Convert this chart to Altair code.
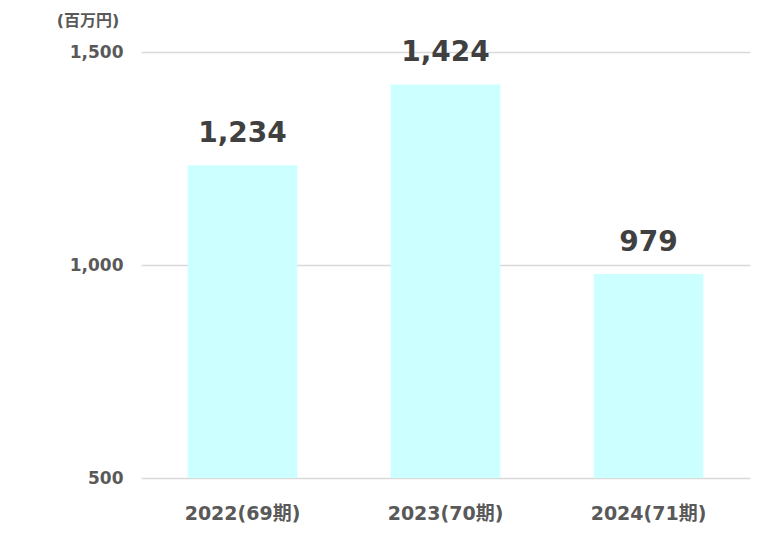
import altair as alt
import pandas as pd

# values (百万円)
periods = ["2022(69期)", "2023(70期)", "2024(71期)"]
amounts = [1234, 1424, 979]
labels = ["1,234", "1,424", "979"]

df = pd.DataFrame({"period": periods, "amount": amounts, "label": labels})

FONT = "DejaVu Sans, Noto Sans CJK JP"

base = alt.Chart(df).encode(
    x=alt.X("period:N", sort=periods, title=None,
            scale=alt.Scale(paddingInner=0.46, paddingOuter=0.23),
            axis=alt.Axis(labelAngle=0, labelFontSize=19, labelFontWeight="bold",
                          labelColor="#595959", labelFont=FONT, labelPadding=26,
                          ticks=False, domain=False, grid=False)),
)

bars = base.mark_bar(color="#CCFFFF").encode(
    y=alt.Y("amount:Q", title=None,
            scale=alt.Scale(domain=[500, 1500], nice=False),
            axis=alt.Axis(values=[500, 1000, 1500], format=",d", labelFontSize=17,
                          labelFontWeight="bold", labelColor="#595959", labelFont=FONT,
                          labelPadding=18, ticks=False, domain=False,
                          gridColor="#d9d9d9", gridWidth=1.5)),
    y2=alt.datum(500),
)

# value labels above each bar
text = base.mark_text(dy=-17, baseline="bottom", fontSize=28, fontWeight="bold",
                      color="#404040", font=FONT).encode(
    y="amount:Q",
    text="label:N",
)

unit = alt.Chart(pd.DataFrame({"t": ["(百万円)"]})).mark_text(
    fontSize=16, fontWeight="bold", color="#595959", font=FONT, align="center"
).encode(x=alt.value(-53), y=alt.value(-31), text="t:N")

chart = alt.layer(bars, text, unit).properties(
    width=609, height=426,
    autosize=alt.AutoSizeParams(type="none"),
    padding={"left": 133, "top": 44, "right": 10, "bottom": 55},
).configure_view(stroke=None)

chart.save("out.html", embed_options={"renderer": "svg", "actions": False})
